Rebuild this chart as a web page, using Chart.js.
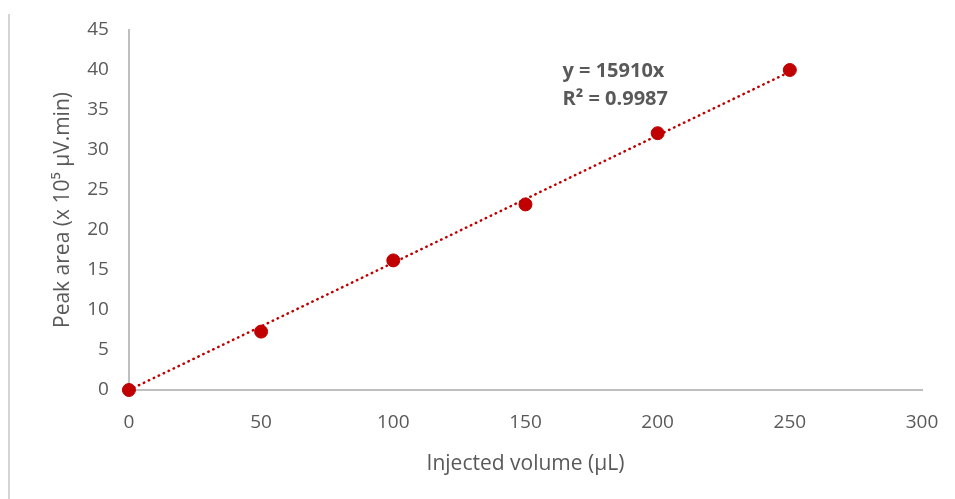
<!DOCTYPE html>
<html>
<head>
	<title>Peak area vs injected volume</title>
	<script src="https://cdn.jsdelivr.net/npm/chart.js"></script>
	<style>
		body { margin: 0; background: #fff; }
		#wrap { position: relative; width: 955px; height: 499px; }
		#edge { position: absolute; left: 8px; top: 14px; bottom: 0; border-left: 2px solid #d4d4d4; }
	</style>
</head>
<body>
	<div id="wrap">
		<div id="edge"></div>
		<canvas id="grafico" width="955" height="499"></canvas>
	</div>

	<script>
		// datos
		var volumen = [0, 50, 100, 150, 200, 250];
		var area = [0, 7.3, 16.2, 23.2, 32.1, 40.0];
		var tendenciaX = [0, 250];
		var tendenciaY = [0, 39.78];
		var ecuacion = ['y = 15910x', 'R² = 0.9987'];

		var rojo = '#c00000';
		var gris = '#595959';
		var fuente = "'Open Sans', sans-serif";

		var puntos = volumen.map(function (v, i) { return { x: v, y: area[i] }; });
		var linea = tendenciaX.map(function (v, i) { return { x: v, y: tendenciaY[i] }; });

		// texto de la ecuacion de tendencia
		var textoEcuacion = {
			id: 'textoEcuacion',
			afterDatasetsDraw: function (chart) {
				var c = chart.ctx;
				var x = chart.scales.x.getPixelForValue(164);
				var y = chart.scales.y.getPixelForValue(39.8);
				c.save();
				c.fillStyle = gris;
				c.font = "bold 20px " + fuente;
				c.textAlign = 'left';
				c.textBaseline = 'middle';
				c.fillText(ecuacion[0], x, y);
				c.fillText(ecuacion[1], x, y + 28);
				c.restore();
			}
		};

		var ctx = document.getElementById('grafico').getContext('2d');
		var chart = new Chart(ctx, {
			type: 'scatter',
			data: {
				datasets: [{
					label: 'Datos',
					data: puntos,
					backgroundColor: rojo,
					borderColor: rojo,
					pointRadius: 6.5,
					clip: false,
					order: 1
				}, {
					label: 'Tendencia',
					data: linea,
					showLine: true,
					borderColor: rojo,
					borderWidth: 2.5,
					borderDash: [0.5, 5],
					borderCapStyle: 'round',
					pointRadius: 0,
					clip: false,
					order: 2
				}]
			},
			options: {
				responsive: false,
				animation: false,
				layout: { padding: { left: 46, right: 33, top: 30, bottom: 18 } },
				plugins: { legend: { display: false }, tooltip: { enabled: false } },
				scales: {
					x: {
						min: 0, max: 300,
						grid: { display: false },
						border: { color: '#bfbfbf', width: 2 },
						ticks: { stepSize: 50, color: gris, padding: 13.5, font: { family: fuente, size: 19 } },
						title: { display: true, text: 'Injected volume (µL)', color: gris, padding: { top: 4 }, font: { family: fuente, size: 21 } }
					},
					y: {
						min: 0, max: 45,
						grid: { display: false },
						border: { color: '#bfbfbf', width: 2 },
						ticks: { stepSize: 5, color: gris, padding: 12, font: { family: fuente, size: 19 } },
						title: { display: true, text: 'Peak area (x 10⁵ µV.min)', color: gris, padding: { bottom: 0 }, font: { family: fuente, size: 21 } }
					}
				}
			},
			plugins: [textoEcuacion]
		});
	</script>
</body>
</html>
